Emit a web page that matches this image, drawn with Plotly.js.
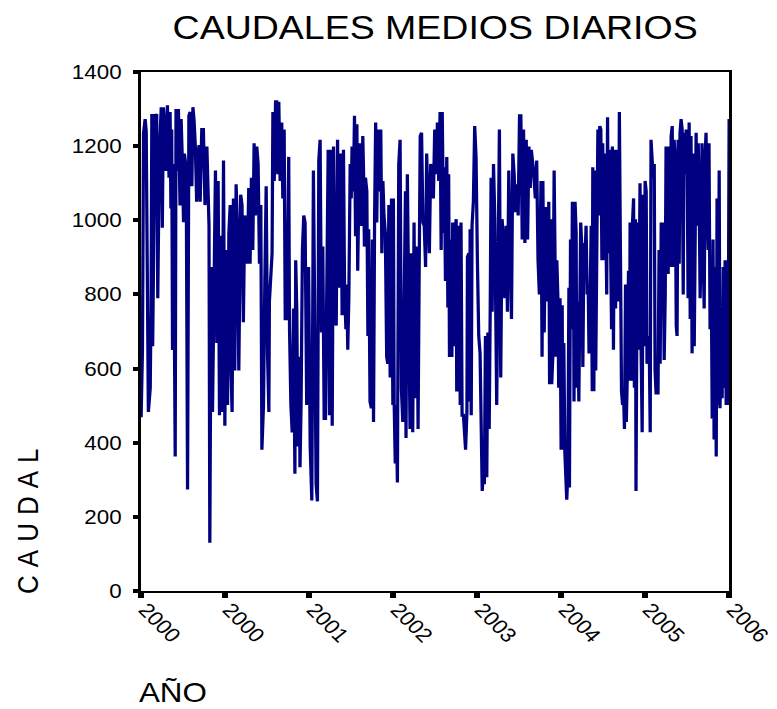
<!DOCTYPE html>
<html>
<head>
<meta charset="utf-8">
<script src="https://cdn.plot.ly/plotly-3.0.1.min.js"></script>
<style>
  html, body { margin: 0; padding: 0; background: #fff; overflow: hidden; }
  #wrap { width: 777px; height: 709px; overflow: hidden; }
  /* the chart is laid out narrower and widened, giving the broad lettering */
  #chart { width: 694px; height: 709px; transform: scaleX(1.12); transform-origin: 0 0; }
  text[data-unformatted="CAUDAL"] { letter-spacing: 8px; }
</style>
</head>
<body>
<div id="wrap"><div id="chart"></div></div>
<script>
// Day number since 1 Jan 2000 and daily mean flow on that day
const dia = [
  0, 5, 9, 15, 19, 24, 27, 34, 37, 40,
  43, 48, 52, 55, 58, 62, 68, 75, 79, 83,
  89, 93, 98, 104, 108, 111, 114, 117, 120, 127,
  130, 135, 139, 145, 149, 154, 158, 161, 168, 173,
  178, 183, 189, 193, 197, 202, 207, 211, 216, 220,
  226, 232, 238, 245, 250, 253, 256, 261, 266, 272,
  277, 282, 287, 292, 297, 302, 307, 312, 317, 322,
  327, 332, 335, 339, 344, 349, 354, 359, 364,
  371, 376, 381, 386, 391, 396, 401, 406, 411, 416,
  421, 426, 431, 436, 441, 446, 450, 456, 461, 466,
  471, 476, 478, 483, 488, 491, 496, 501, 505, 509,
  513, 518, 524, 528, 533, 537, 543, 550, 553, 558,
  563, 568, 573, 576, 580, 584, 589, 592, 596, 601,
  606, 611, 617, 624, 630, 636, 642, 647, 652, 657,
  662, 667, 672, 677, 682, 687, 692, 697, 702, 707,
  712, 717, 722, 727, 732, 737,
  744, 749, 754, 758, 763, 766, 770, 774, 779, 783,
  786, 791, 795, 799, 804, 807, 811, 816, 822, 826,
  829, 832, 836, 841, 845, 848, 853, 858, 862, 866,
  870, 874, 878, 882, 887, 893, 897, 901, 905, 910,
  915, 919, 923, 928, 933, 938, 940, 943, 947, 950,
  955, 960, 965, 970, 975, 980, 985, 987, 992, 997,
  1002, 1007, 1012, 1017, 1022, 1027, 1032, 1036, 1040, 1045,
  1050, 1055, 1060, 1064, 1069, 1074, 1079, 1084, 1089, 1094,
  1099, 1104, 1109,
  1114, 1118, 1122, 1124, 1127, 1130, 1134, 1139, 1143, 1146,
  1149, 1154, 1158, 1161, 1166, 1170, 1174, 1176, 1181, 1185,
  1189, 1192, 1196, 1201, 1205, 1209, 1214, 1216, 1221, 1223,
  1226, 1230, 1233, 1238, 1243, 1248, 1253, 1258, 1263, 1267,
  1271, 1276, 1279, 1283, 1288, 1292, 1297, 1301, 1304, 1308,
  1313, 1318, 1322, 1325, 1330, 1335, 1340, 1345, 1350, 1355,
  1360, 1365, 1370, 1375, 1380, 1385, 1390, 1395, 1400, 1405,
  1410, 1415, 1420, 1425, 1430, 1435, 1440, 1445, 1450, 1454,
  1462, 1469, 1474, 1479, 1484,
  1490, 1494, 1497, 1502, 1507, 1512, 1515, 1519, 1522, 1526,
  1530, 1534, 1539, 1543, 1546, 1549, 1553, 1556, 1561, 1565,
  1569, 1571, 1575, 1579, 1582, 1586, 1590, 1594, 1596, 1600,
  1604, 1607, 1611, 1613, 1617, 1621, 1623, 1627, 1631, 1635,
  1638, 1642, 1646, 1650, 1653, 1658, 1662, 1666, 1669, 1673,
  1677, 1681, 1683, 1687, 1690, 1694, 1698, 1702, 1705, 1709,
  1713, 1717, 1720, 1724, 1728, 1731, 1735, 1738, 1741, 1745,
  1749, 1753, 1756, 1760, 1764, 1768, 1771, 1775, 1779, 1782,
  1786, 1790, 1794, 1797, 1801, 1805, 1808, 1812, 1816, 1820,
  1822, 1827, 1831, 1835, 1838, 1842, 1844, 1849, 1854, 1859,
  1863, 1867, 1871, 1874, 1878, 1882, 1885, 1889, 1893, 1897,
  1900, 1904, 1908, 1912, 1915, 1919, 1923, 1926, 1930, 1934,
  1938, 1941, 1945, 1949, 1953, 1956, 1960, 1964, 1967, 1971,
  1975, 1979, 1982, 1986, 1990, 1994, 1997, 2001, 2005, 2008,
  2012, 2016, 2020, 2023, 2027, 2031, 2035, 2038, 2042, 2046,
  2049, 2053, 2057, 2061, 2064, 2068, 2072, 2076, 2079, 2083,
  2087, 2090, 2094, 2098, 2102, 2105, 2109, 2113, 2116, 2120,
  2124, 2128, 2131, 2135, 2139, 2143, 2146, 2150, 2154, 2157,
  2161, 2165, 2169, 2172, 2176, 2180, 2184, 2187, 2191
];

const caudal = [
  469, 650, 1235, 1273, 1240, 800, 483, 548, 776, 1287,
  660, 1003, 1287, 1120, 1287, 790, 1180, 1305, 980, 1305,
  1245, 1133, 1310, 1115, 1292, 1032, 1245, 650, 1152, 363,
  1300, 1133, 1300, 1040, 1273, 1152, 995, 1180, 1143, 274,
  1282, 1292, 1092, 1305, 1273, 1199, 1050, 1171, 1203, 1050,
  1245, 1245, 1041, 1199, 1060, 985, 130, 874, 483, 818,
  1134, 669, 1106, 474, 958, 483, 1161, 446, 920, 502,
  966, 1041, 595, 483, 1059, 595, 1097, 976, 595,
  1069, 1041, 725, 1013, 985, 883, 1087, 883, 1115, 920,
  1208, 1013, 1199, 1152, 883, 1041, 381, 502, 836, 1092,
  641, 483, 781, 836, 911, 1292, 1106, 1320, 1320, 1124,
  1320, 1106, 1264, 1059, 1245, 734, 734, 1171, 706, 502,
  428, 762, 316, 892, 762, 390, 632, 334, 502, 920,
  1013, 994, 502, 874, 390, 244, 1134, 734, 288, 242,
  1161, 1217, 697, 929, 465, 465, 966, 1190, 474, 1190,
  446, 1199, 734, 716, 1217, 818,
  1180, 744, 1190, 817, 706, 827, 651, 790, 1152, 1059,
  1199, 1078, 1282, 957, 1259, 864, 1059, 1208, 985, 1227,
  1124, 929, 1115, 1078, 688, 976, 511, 493, 948, 456,
  1013, 1264, 994, 1245, 1078, 1245, 911, 1106, 1013, 966,
  632, 613, 1041, 576, 1059, 502, 1059, 502, 344, 502,
  293, 1152, 1217, 542, 456, 762, 1078, 413, 1124, 781,
  437, 911, 428, 994, 520, 929, 437, 855, 1227, 1236,
  994, 985, 874, 1180, 985, 911, 1152, 1097, 1059, 1245,
  1124, 1264, 1106,
  1292, 920, 1292, 1143, 966, 1143, 836, 1171, 765, 1124,
  631, 948, 631, 994, 660, 966, 1003, 542, 542, 985,
  502, 994, 474, 474, 409, 381, 483, 901, 911, 511,
  976, 474, 985, 1050, 1254, 1171, 892, 688, 641, 381,
  270, 335, 288, 688, 307, 697, 437, 781, 1115, 753,
  1152, 1003, 530, 502, 874, 1245, 576, 1003, 948, 790,
  985, 753, 1134, 874, 734, 1180, 1124, 1022, 1097, 1013,
  1282, 1282, 948, 1245, 939, 1217, 948, 1199, 1087, 1190,
  1134, 1059, 1161, 892, 800,
  1106, 632, 1106, 697, 1032, 1032, 781, 1050, 558, 1003,
  558, 632, 1134, 641, 632, 892, 790, 548, 790, 381,
  771, 381, 669, 372, 307, 246, 316, 818, 279, 948,
  706, 1050, 966, 511, 1050, 966, 548, 781, 511, 706,
  994, 929, 604, 939, 874, 985, 800, 818, 641, 790,
  985, 539, 1143, 539, 1134, 595, 1097, 1245, 1013, 1254,
  1245, 892, 1208, 892, 1180, 1003, 800, 1278, 911, 1190,
  911, 706, 1199, 651, 1190, 762, 1190, 957, 781, 1292,
  966, 539, 502, 548, 437, 827, 456, 595, 864, 567,
  994, 567, 994, 1059, 548, 1003, 270, 994, 651, 1100,
  651, 428, 1069, 660, 1106, 1078, 613, 632, 688, 428,
  1217, 1171, 1115, 1152, 595, 530, 613, 530, 920, 613,
  994, 818, 994, 623, 800, 1199, 1171, 855, 1199, 874,
  1227, 1254, 874, 1217, 1171, 716, 688, 1217, 883, 1236,
  1273, 1245, 800, 1236, 1124, 1245, 1124, 790, 1264, 734,
  1227, 641, 1180, 660, 1050, 1236, 985, 1208, 1078, 790,
  948, 1208, 920, 762, 1180, 1236, 1041, 920, 1208, 706,
  892, 465, 948, 409, 874, 363, 1059, 502, 1134, 493,
  641, 520, 874, 548, 892, 502, 892, 502, 1273
];

const etiquetasAnio = ['2000', '2000', '2001', '2002', '2003', '2004', '2005', '2006'];
const marcasCaudal = [0, 200, 400, 600, 800, 1000, 1200, 1400];
const diasTotales = 2191;

const intervalos = etiquetasAnio.length - 1;
const posAnio = etiquetasAnio.map((_, k) => k * diasTotales / intervalos);

const serie = {
  type: 'scatter',
  mode: 'lines',
  x: dia,
  y: caudal,
  line: { color: '#000080', width: 2.9 },
  hoverinfo: 'skip'
};

const fuente = '"Liberation Sans", Arial, Helvetica, sans-serif';

const layout = {
  width: 694,
  height: 709,
  margin: { l: 126, r: 43, t: 72, b: 118, pad: 0 },
  paper_bgcolor: '#ffffff',
  plot_bgcolor: '#ffffff',
  showlegend: false,
  font: { family: fuente, color: '#000000' },
  title: {
    text: 'CAUDALES MEDIOS DIARIOS',
    font: { family: fuente, size: 33.5, color: '#000000' },
    xref: 'paper', x: 0.5, xanchor: 'center',
    yref: 'container', y: 0.962, yanchor: 'middle'
  },
  xaxis: {
    range: [0, diasTotales],
    tickmode: 'array',
    tickvals: posAnio,
    ticktext: etiquetasAnio,
    tickangle: 48,
    ticklabelshift: 4,
    ticklabelstandoff: -8,
    ticklabeloverflow: 'allow',
    ticks: 'outside', ticklen: 5, tickwidth: 5, tickcolor: '#000000',
    showline: true, linewidth: 2, linecolor: '#000000', mirror: true,
    showgrid: false, zeroline: false,
    tickfont: { family: fuente, size: 20, color: '#000000' }
  },
  yaxis: {
    range: [0, 1400],
    tickmode: 'array',
    tickvals: marcasCaudal,
    ticktext: marcasCaudal.map(String),
    ticks: 'outside', ticklen: 5, tickwidth: 4, tickcolor: '#000000',
    showline: true, linewidth: 2.4, linecolor: '#000000', mirror: true,
    showgrid: false, zeroline: false,
    ticklabelstandoff: 6,
    tickfont: { family: fuente, size: 20, color: '#000000' }
  },
  annotations: [
    {
      text: 'AÑO', xref: 'paper', yref: 'paper',
      x: 0.0552, y: -0.1965, xanchor: 'center', yanchor: 'middle',
      showarrow: false,
      font: { family: fuente, size: 28, color: '#000000' }
    },
    {
      text: 'CAUDAL', xref: 'paper', yref: 'paper',
      x: -0.1924, y: 0.1426, xanchor: 'center', yanchor: 'middle',
      textangle: -90, showarrow: false,
      font: { family: fuente, size: 26, color: '#000000' }
    }
  ]
};

Plotly.newPlot('chart', [serie], layout, { staticPlot: true, displayModeBar: false });
</script>
</body>
</html>
